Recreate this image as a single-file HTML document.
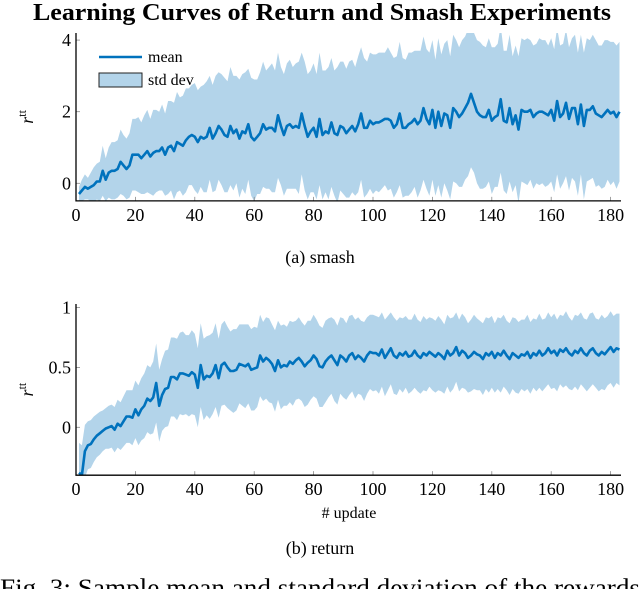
<!DOCTYPE html>
<html><head><meta charset="utf-8"><style>
html,body{margin:0;padding:0;background:#fff;}
svg{display:block;font-family:"Liberation Serif",serif;}
</style></head><body>
<svg id="fig" width="640" height="589" viewBox="0 0 640 589">
<text x="322" y="20" text-anchor="middle" font-size="24" font-weight="bold" textLength="578" lengthAdjust="spacingAndGlyphs">Learning Curves of Return and Smash Experiments</text>
<g id="top"></g>
<g id="bot"></g>
<text x="320" y="263" text-anchor="middle" font-size="18">(a) smash</text>
<text x="349" y="518" text-anchor="middle" font-size="16"># update</text>
<text x="320" y="554" text-anchor="middle" font-size="18">(b) return</text>
<text x="0" y="596" font-size="25" textLength="640" lengthAdjust="spacingAndGlyphs">Fig. 3: Sample mean and standard deviation of the rewards</text>
</svg>
<script>
const smashMean=[-0.3,-0.2,-0.1,-0.15,-0.1,-0.05,0.05,0.05,0.35,0.1,
0.3,0.35,0.35,0.4,0.6,0.5,0.4,0.5,0.8,0.8,
0.8,0.7,0.8,0.9,0.75,0.85,0.9,0.9,1.0,0.8,
1.0,1.05,0.9,1.15,1.1,1.05,1.2,1.3,1.35,1.3,
1.15,1.3,1.25,1.3,1.55,1.25,1.4,1.6,1.5,1.35,
1.3,1.6,1.4,1.5,1.25,1.45,1.4,1.65,1.3,1.2,
1.3,1.4,1.65,1.5,1.55,1.55,1.45,1.9,1.6,1.35,
1.6,1.65,1.55,1.6,1.55,1.95,1.6,1.3,1.45,1.55,
1.3,1.8,1.35,1.45,1.4,1.7,1.4,1.35,1.6,1.55,
1.4,1.5,1.6,1.45,1.65,1.95,1.55,1.55,1.75,1.65,
1.7,1.7,1.75,1.8,1.8,1.75,1.55,1.65,1.95,1.55,
1.55,1.65,1.7,1.8,1.65,1.75,2.1,1.8,1.65,2.05,
1.55,2.0,1.6,1.95,1.9,1.55,2.1,2.0,1.85,1.95,
2.1,2.25,2.5,2.25,2.0,1.9,1.85,1.85,2.05,1.75,
1.85,1.9,2.35,1.75,1.7,2.1,1.65,1.9,1.5,2.05,
2.0,2.0,2.05,1.85,1.95,2.0,2.0,1.95,1.9,2.05,
1.75,2.3,1.85,1.95,2.25,1.8,2.1,2.1,1.65,2.2,
1.6,2.05,2.05,2.15,1.95,1.9,1.85,1.95,2.05,1.95,
2.0,1.85,2.0];
const smashStd=[0.2,0.3,0.35,0.3,0.4,0.5,0.5,0.55,0.7,0.6,
0.7,0.8,0.8,0.8,0.9,0.85,0.85,0.9,1.0,1.0,
1.05,1.0,1.1,1.15,1.05,1.2,1.15,1.1,1.2,1.15,
1.3,1.25,1.35,1.4,1.3,1.4,1.45,1.35,1.4,1.5,
1.45,1.4,1.5,1.55,1.45,1.5,1.6,1.5,1.55,1.6,
1.55,1.65,1.6,1.5,1.65,1.6,1.7,1.55,1.65,1.7,
1.6,1.7,1.75,1.65,1.7,1.8,1.7,1.75,1.65,1.7,
1.75,1.8,1.7,1.75,1.85,1.7,1.8,1.75,1.7,1.8,
1.75,1.85,1.8,1.7,1.85,1.8,1.75,1.9,1.8,1.85,
1.8,1.9,1.85,1.8,1.9,1.85,1.95,1.85,1.9,1.95,
1.9,1.95,1.9,1.85,2.0,1.9,1.95,1.9,2.0,1.95,
1.9,2.0,1.95,1.9,2.05,1.95,2.0,1.95,2.0,1.95,
1.9,2.05,2.0,1.95,2.1,2.0,2.05,2.0,1.95,2.05,
2.0,2.05,2.05,1.95,2.0,2.05,2.0,1.95,2.0,2.05,
1.95,2.0,2.05,1.95,2.0,2.05,1.9,1.95,2.05,2.0,
2.0,2.05,1.95,2.0,1.95,2.05,2.0,2.05,1.95,2.0,
2.0,2.05,2.0,1.95,2.05,2.0,1.95,2.05,2.0,1.95,
2.05,2.0,1.95,2.0,2.05,1.95,2.0,2.05,1.95,2.0,
1.95,2.0,1.95];
const returnMean=[-0.38,-0.4,-0.2,-0.15,-0.14,-0.1,-0.07,-0.05,-0.03,-0.01,
0.0,0.01,-0.02,0.03,0.01,0.05,0.09,0.09,0.08,0.15,
0.1,0.15,0.18,0.24,0.22,0.25,0.37,0.18,0.27,0.32,
0.33,0.42,0.42,0.4,0.45,0.45,0.44,0.43,0.46,0.44,
0.33,0.52,0.4,0.43,0.42,0.45,0.52,0.41,0.52,0.54,
0.5,0.47,0.47,0.48,0.53,0.52,0.51,0.53,0.48,0.49,
0.5,0.6,0.55,0.58,0.56,0.53,0.47,0.56,0.5,0.52,
0.51,0.55,0.53,0.56,0.58,0.55,0.51,0.54,0.56,0.6,
0.57,0.51,0.5,0.55,0.58,0.6,0.56,0.52,0.6,0.58,
0.55,0.6,0.62,0.57,0.6,0.58,0.55,0.6,0.63,0.62,
0.62,0.6,0.65,0.58,0.62,0.66,0.6,0.58,0.62,0.6,
0.63,0.59,0.6,0.64,0.6,0.58,0.62,0.6,0.63,0.61,
0.59,0.62,0.6,0.57,0.64,0.6,0.62,0.67,0.6,0.64,
0.62,0.58,0.6,0.63,0.61,0.6,0.57,0.62,0.6,0.63,
0.58,0.62,0.6,0.64,0.6,0.57,0.62,0.6,0.58,0.61,
0.6,0.63,0.58,0.62,0.6,0.64,0.6,0.62,0.66,0.62,
0.64,0.6,0.65,0.63,0.66,0.62,0.6,0.64,0.62,0.66,
0.62,0.6,0.64,0.66,0.62,0.6,0.63,0.61,0.64,0.67,
0.63,0.66,0.65];
const returnStd=[0.25,0.25,0.22,0.2,0.2,0.19,0.18,0.18,0.17,0.17,
0.18,0.18,0.19,0.2,0.2,0.21,0.22,0.22,0.23,0.24,
0.25,0.26,0.27,0.28,0.28,0.3,0.33,0.3,0.3,0.32,
0.32,0.33,0.33,0.34,0.34,0.35,0.33,0.34,0.35,0.34,
0.33,0.35,0.34,0.33,0.35,0.34,0.35,0.33,0.34,0.35,
0.34,0.33,0.35,0.34,0.33,0.34,0.35,0.33,0.34,0.35,
0.33,0.34,0.33,0.34,0.35,0.33,0.34,0.33,0.35,0.34,
0.33,0.34,0.35,0.33,0.34,0.33,0.34,0.35,0.33,0.34,
0.33,0.34,0.33,0.34,0.33,0.32,0.34,0.33,0.32,0.33,
0.32,0.33,0.32,0.33,0.32,0.31,0.33,0.32,0.31,0.32,
0.31,0.32,0.31,0.32,0.31,0.3,0.32,0.31,0.3,0.31,
0.3,0.31,0.3,0.31,0.3,0.3,0.31,0.3,0.29,0.3,
0.3,0.31,0.3,0.29,0.3,0.31,0.3,0.29,0.3,0.31,
0.3,0.29,0.3,0.31,0.3,0.29,0.3,0.3,0.31,0.3,
0.29,0.3,0.31,0.3,0.29,0.3,0.3,0.31,0.3,0.29,
0.3,0.31,0.3,0.29,0.3,0.31,0.3,0.29,0.3,0.3,
0.31,0.3,0.29,0.3,0.31,0.3,0.29,0.3,0.31,0.3,
0.29,0.3,0.31,0.3,0.29,0.3,0.31,0.3,0.29,0.3,
0.3,0.29,0.3];
const xTicks=[0,20,40,60,80,100,120,140,160,180];
const smashYTicks=[0,2,4];
const returnYTicks=[0,0.5,1];
const returnYLabels=["0","0.5","1"];

const NS="http://www.w3.org/2000/svg";
function mk(tag,attrs,parent){const e=document.createElementNS(NS,tag);for(const k in attrs)e.setAttribute(k,attrs[k]);parent.appendChild(e);return e;}

function drawChart(g,cfg){
  const xs=v=>cfg.x0+(v-0)*cfg.xs;
  const ys=v=>cfg.y0-(v-0)*cfg.ys;
  const left=cfg.axL,right=cfg.axR,top=ys(cfg.yMax),bottom=ys(cfg.yMin);
  const cid='clip'+cfg.id;
  const cp=mk('clipPath',{id:cid},g);
  mk('rect',{x:left,y:top,width:right-left,height:bottom-top},cp);
  const plot=mk('g',{'clip-path':'url(#'+cid+')'},g);
  let up='',lo='';
  cfg.mean.forEach((m,i)=>{up+=(i?'L':'M')+xs(i+1).toFixed(1)+','+ys(m+cfg.std[i]).toFixed(1);});
  for(let i=cfg.mean.length-1;i>=0;i--){lo+='L'+xs(i+1).toFixed(1)+','+ys(cfg.mean[i]-cfg.std[i]).toFixed(1);}
  const band=mk('path',{d:up+lo+'Z',fill:'#b3d4ea',stroke:'none'},plot);
  
  
  let d='';
  cfg.mean.forEach((m,i)=>{d+=(i?'L':'M')+xs(i+1).toFixed(1)+','+ys(m).toFixed(1);});
  const line=mk('path',{d:d,fill:'none',stroke:'#0072bd',"stroke-width":2.6,"stroke-linejoin":'round'},plot);
  
  
  xTicks.forEach(t=>{
    mk('line',{x1:xs(t),x2:xs(t),y1:bottom,y2:bottom-4,stroke:'#888','stroke-width':0.8},g);
    const tx=mk('text',{x:xs(t),y:bottom+20,'text-anchor':'middle','font-size':18},g);
    tx.textContent=t;
    
    
  });
  cfg.yTicks.forEach((t,i)=>{
    mk('line',{x1:left,x2:left+4,y1:ys(t),y2:ys(t),stroke:'#888','stroke-width':0.8},g);
    const tx=mk('text',{x:left-5,y:ys(t)+6,'text-anchor':'end','font-size':18},g);
    tx.textContent=cfg.yLabels[i];
    
    
  });
  mk('path',{d:`M${left},${top}V${bottom}H${right}`,fill:'none',stroke:'#000','stroke-width':1.3},g);
  const yl=mk('text',{transform:`translate(${cfg.ylx},${(top+bottom)/2}) rotate(-90)`,'text-anchor':'middle','font-size':18,'font-style':'italic'},g);
  yl.innerHTML='r<tspan dy="-7" font-size="12" font-style="normal">tt</tspan>';
  
  
}
drawChart(document.getElementById('top'),{id:'t',x0:76,xs:2.97,y0:183.3,ys:35.8,yMin:-0.49,yMax:4.2,axL:76,axR:621,mean:smashMean,std:smashStd,yTicks:smashYTicks,yLabels:["0","2","4"],ylx:33});
drawChart(document.getElementById('bot'),{id:'b',x0:76,xs:2.97,y0:427.3,ys:119.7,yMin:-0.4,yMax:1.03,axL:76,axR:621,mean:returnMean,std:returnStd,yTicks:returnYTicks,yLabels:returnYLabels,ylx:33});
const svg=document.getElementById('fig');
const lg=mk('g',{},svg);


mk('line',{x1:99,x2:142,y1:57,y2:57,stroke:'#0072bd','stroke-width':2.6},lg);
const t1=mk('text',{x:148,y:62,'font-size':16},lg);t1.textContent='mean';


mk('rect',{x:99,y:73,width:43,height:14,fill:'#b3d4ea',stroke:'#222','stroke-width':1},lg);
const t2=mk('text',{x:148,y:85,'font-size':16},lg);t2.textContent='std dev';


</script>
</body></html>
